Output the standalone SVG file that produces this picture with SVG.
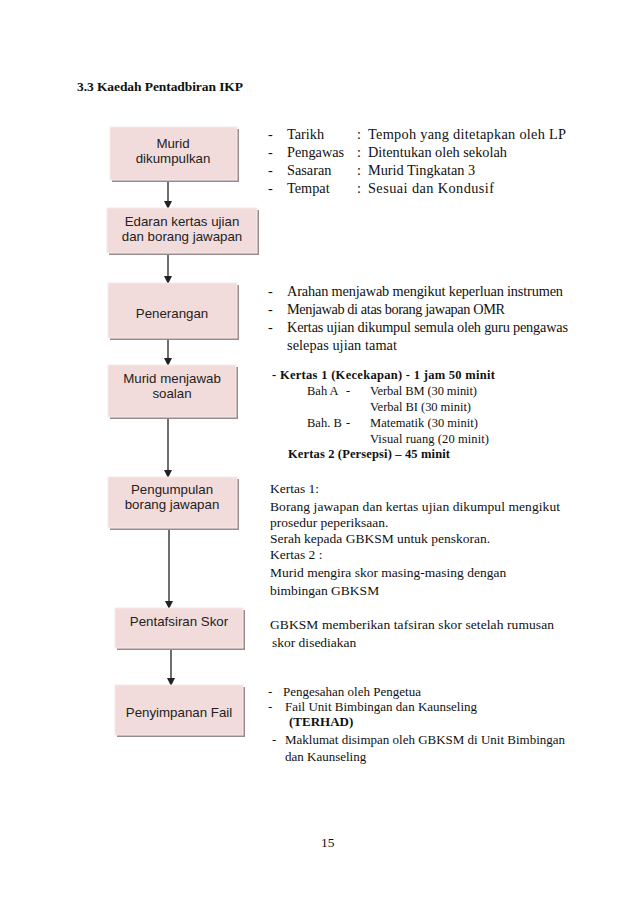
<svg xmlns="http://www.w3.org/2000/svg" width="638" height="903" viewBox="0 0 638 903">
<defs>
<marker id="ah" markerWidth="8" markerHeight="8" refX="7" refY="4" orient="auto" markerUnits="userSpaceOnUse">
<path d="M0,0 L8,4 L0,8 Z" fill="#222"/>
</marker>
<style>
.sh{fill:#9a8c8c}
.bx{fill:#f2dcdb;stroke:#f7eaea;stroke-width:1}
.bt{font-family:"Liberation Sans",Arial,sans-serif;font-size:13.3px;fill:#222;text-anchor:middle}
.t{font-family:"Liberation Serif","Times New Roman",serif;font-size:13.5px;fill:#111}
.u{font-family:"Liberation Serif","Times New Roman",serif;font-size:14.3px;fill:#111}
.v{font-family:"Liberation Serif","Times New Roman",serif;font-size:13px;fill:#111}
.s{font-family:"Liberation Serif","Times New Roman",serif;font-size:12.5px;fill:#111}
.b{font-weight:bold}
.cn{stroke:#222;stroke-width:1.3;fill:none;marker-end:url(#ah)}
</style>
</defs>
<rect width="638" height="903" fill="#fff"/>
<text class="t b" x="77" y="91" textLength="166" lengthAdjust="spacing">3.3 Kaedah Pentadbiran IKP</text>

<g id="connectors">
<line class="cn" x1="168" y1="181" x2="168" y2="208"/>
<line class="cn" x1="168" y1="255" x2="168" y2="283"/>
<line class="cn" x1="168" y1="340" x2="168" y2="365"/>
<line class="cn" x1="168" y1="419" x2="168" y2="477"/>
<line class="cn" x1="169" y1="530" x2="169" y2="608"/>
<line class="cn" x1="171" y1="650" x2="171" y2="685"/>
</g>

<g id="n1">
<rect class="sh" x="112" y="129" width="127" height="53"/>
<rect class="bx" x="110" y="127" width="127" height="53"/>
<text class="bt" x="173" y="148">Murid</text>
<text class="bt" x="173" y="163">dikumpulkan</text>
</g>
<g id="n2">
<rect class="sh" x="109" y="210" width="150" height="45"/>
<rect class="bx" x="107" y="208" width="150" height="45"/>
<text class="bt" x="182" y="226">Edaran kertas ujian</text>
<text class="bt" x="182" y="241">dan borang jawapan</text>
</g>
<g id="n3">
<rect class="sh" x="110" y="285" width="129" height="55"/>
<rect class="bx" x="108" y="283" width="129" height="55"/>
<text class="bt" x="172" y="318">Penerangan</text>
</g>
<g id="n4">
<rect class="sh" x="110" y="367" width="128" height="52"/>
<rect class="bx" x="108" y="365" width="128" height="52"/>
<text class="bt" x="172" y="383">Murid menjawab</text>
<text class="bt" x="172" y="398">soalan</text>
</g>
<g id="n5">
<rect class="sh" x="110" y="479" width="129" height="51"/>
<rect class="bx" x="108" y="477" width="129" height="51"/>
<text class="bt" x="172" y="494">Pengumpulan</text>
<text class="bt" x="172" y="509">borang jawapan</text>
</g>
<g id="n6">
<rect class="sh" x="117" y="610" width="128" height="40"/>
<rect class="bx" x="115" y="608" width="128" height="40"/>
<text class="bt" x="179" y="626">Pentafsiran Skor</text>
</g>
<g id="n7">
<rect class="sh" x="117" y="687" width="128" height="50"/>
<rect class="bx" x="115" y="685" width="128" height="50"/>
<text class="bt" x="179" y="717">Penyimpanan Fail</text>
</g>

<g id="notes1">
<text class="u" x="268" y="139">-</text><text class="u" x="287" y="139">Tarikh</text><text class="u" x="357" y="139">:</text><text class="u" x="368" y="139" textLength="198" lengthAdjust="spacing">Tempoh yang ditetapkan oleh LP</text>
<text class="u" x="268" y="157">-</text><text class="u" x="287" y="157">Pengawas</text><text class="u" x="357" y="157">:</text><text class="u" x="368" y="157">Ditentukan oleh sekolah</text>
<text class="u" x="268" y="175">-</text><text class="u" x="287" y="175">Sasaran</text><text class="u" x="357" y="175">:</text><text class="u" x="368" y="175">Murid Tingkatan 3</text>
<text class="u" x="268" y="193">-</text><text class="u" x="287" y="193">Tempat</text><text class="u" x="357" y="193">:</text><text class="u" x="368" y="193" textLength="126" lengthAdjust="spacing">Sesuai dan Kondusif</text>
</g>
<g id="notes2">
<text class="u" x="268" y="296">-</text><text class="u" x="287" y="296" textLength="276" lengthAdjust="spacing">Arahan menjawab mengikut keperluan instrumen</text>
<text class="u" x="268" y="314">-</text><text class="u" x="287" y="314" textLength="218" lengthAdjust="spacing">Menjawab di atas borang jawapan OMR</text>
<text class="u" x="268" y="332">-</text><text class="u" x="287" y="332" textLength="281" lengthAdjust="spacing">Kertas ujian dikumpul semula oleh guru pengawas</text>
<text class="u" x="287" y="350" textLength="110" lengthAdjust="spacing">selepas ujian tamat</text>
</g>
<g id="notes3">
<text class="s b" x="272" y="379" textLength="223" lengthAdjust="spacing">-  Kertas 1  (Kecekapan) -  1 jam 50 minit</text>
<text class="s" x="307" y="395">Bah A</text><text class="s" x="346" y="395">-</text><text class="s" x="370" y="395" textLength="107" lengthAdjust="spacing">Verbal BM (30 minit)</text>
<text class="s" x="370" y="411" textLength="101" lengthAdjust="spacing">Verbal BI (30 minit)</text>
<text class="s" x="307" y="427">Bah. B</text><text class="s" x="346" y="427">-</text><text class="s" x="370" y="427" textLength="108" lengthAdjust="spacing">Matematik (30 minit)</text>
<text class="s" x="370" y="443" textLength="119" lengthAdjust="spacing">Visual ruang (20 minit)</text>
<text class="s b" x="288" y="458" textLength="162" lengthAdjust="spacing">Kertas 2 (Persepsi) – 45 minit</text>
</g>
<g id="notes4">
<text class="t" x="270" y="493">Kertas 1:</text>
<text class="t" x="270" y="511" textLength="290" lengthAdjust="spacing">Borang jawapan dan kertas ujian dikumpul mengikut</text>
<text class="t" x="270" y="527">prosedur  peperiksaan.</text>
<text class="t" x="270" y="543">Serah kepada GBKSM untuk penskoran.</text>
<text class="t" x="270" y="559">Kertas 2 :</text>
<text class="t" x="270" y="577">Murid mengira skor masing-masing dengan</text>
<text class="t" x="270" y="595">bimbingan GBKSM</text>
<text class="t" x="270" y="629" textLength="284" lengthAdjust="spacing">GBKSM memberikan tafsiran skor setelah  rumusan</text>
<text class="t" x="272" y="647">skor disediakan</text>
</g>
<g id="notes5">
<text class="v" x="268" y="696">-</text><text class="v" x="283" y="696">Pengesahan oleh Pengetua</text>
<text class="v" x="268" y="711">-</text><text class="v" x="285" y="711">Fail Unit Bimbingan dan Kaunseling</text>
<text class="v b" x="289" y="726">(TERHAD)</text>
<text class="v" x="272" y="744">-</text><text class="v" x="285" y="744" textLength="280" lengthAdjust="spacing">Maklumat disimpan oleh GBKSM di Unit Bimbingan</text>
<text class="v" x="285" y="761">dan Kaunseling</text>
</g>
<text class="t" x="321" y="847">15</text>
</svg>
